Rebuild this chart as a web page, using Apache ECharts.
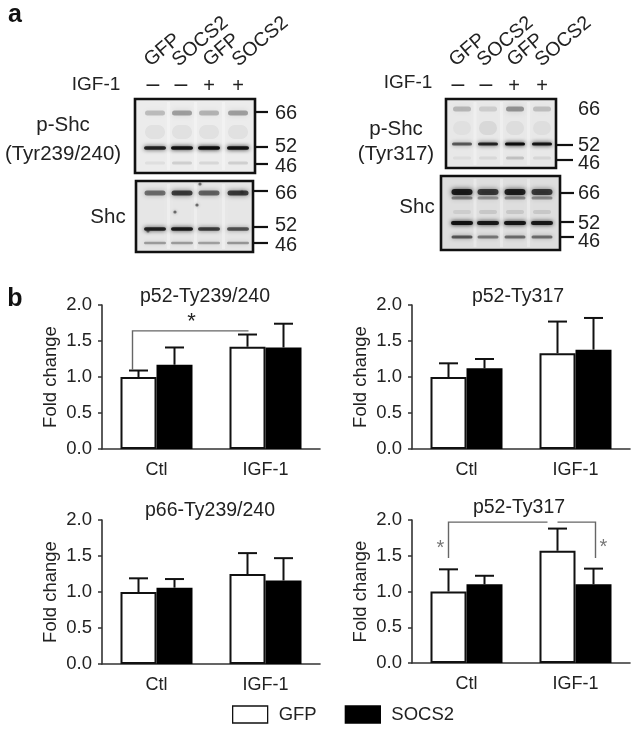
<!DOCTYPE html>
<html>
<head>
<meta charset="utf-8">
<style>
  html, body { margin: 0; padding: 0; background: #fff; }
  #main { width: 638px; height: 729px; }
</style>
</head>
<body>
<div id="main"></div>
<script src="https://cdn.jsdelivr.net/npm/echarts@6/dist/echarts.min.js"></script>
<script>
// bar chart data
var categories = ['Ctl', 'IGF-1'];
var tickLabels = ['0.0', '0.5', '1.0', '1.5', '2.0'];
var panelTitles = ['p52-Ty239/240', 'p52-Ty317', 'p66-Ty239/240', 'p52-Ty317'];

var gfpA = [1.0, 1.42];
var socsA = [1.17, 1.41];
var gfpTopA = [1.09, 1.59];
var socsTopA = [1.41, 1.74];

var gfpB = [1.0, 1.33];
var socsB = [1.12, 1.38];
var gfpTopB = [1.19, 1.77];
var socsTopB = [1.25, 1.82];

var gfpC = [1.0, 1.25];
var socsC = [1.06, 1.16];
var gfpTopC = [1.19, 1.54];
var socsTopC = [1.18, 1.47];

var gfpD = [1.0, 1.57];
var socsD = [1.1, 1.1];
var gfpTopD = [1.31, 1.88];
var socsTopD = [1.22, 1.32];

// blot band strength per lane (0..1)
var pShcLeft66 = [0.2, 0.32, 0.24, 0.32];
var pShcLeftHaze = [0.05, 0.05, 0.05, 0.05];
var pShcLeft52 = [0.85, 0.95, 1.0, 0.95];
var pShcLeft46 = [0.06, 0.12, 0.09, 0.12];
var shcLeft66 = [0.5, 0.72, 0.55, 0.72];
var shcLeft52 = [0.85, 0.9, 0.72, 0.62];
var shcLeft46 = [0.32, 0.32, 0.3, 0.34];
var pShcRight66 = [0.22, 0.12, 0.36, 0.18];
var pShcRightHaze = [0.03, 0.07, 0.05, 0.04];
var pShcRight52 = [0.6, 0.85, 1.0, 0.95];
var pShcRight46 = [0.05, 0.07, 0.17, 0.08];
var shcRight66 = [0.88, 0.72, 0.85, 0.72];
var shcRight66b = [0.4, 0.32, 0.36, 0.36];
var shcRightHaze = [0.08, 0.1, 0.1, 0.1];
var shcRight52 = [0.95, 0.9, 0.92, 0.9];
var shcRight46 = [0.6, 0.45, 0.5, 0.5];

var FONT = '"Liberation Sans", Arial, sans-serif';
var BAR_W = 36;
var grids = [
  { left: 102, top: 305, width: 218, height: 144 },
  { left: 412, top: 305, width: 218, height: 144 },
  { left: 102, top: 520, width: 218, height: 144 },
  { left: 412, top: 520, width: 218, height: 143 }
];
var panels = [
  [gfpA, socsA, gfpTopA, socsTopA],
  [gfpB, socsB, gfpTopB, socsTopB],
  [gfpC, socsC, gfpTopC, socsTopC],
  [gfpD, socsD, gfpTopD, socsTopD]
];

var myChart = echarts.init(document.getElementById('main'));

// error bar: stem from the bar top up to the cap
function errorItem(side) {
  return function (params, api) {
    var off = side * BAR_W / 2;
    var a = api.coord([api.value(0), api.value(1)]);
    var b = api.coord([api.value(0), api.value(2)]);
    var st = { stroke: '#111', lineWidth: 2 };
    return {
      type: 'group',
      children: [
        { type: 'line', shape: { x1: a[0] + off, y1: a[1], x2: a[0] + off, y2: b[1] }, style: st },
        { type: 'line', shape: { x1: a[0] + off - 9.5, y1: b[1], x2: a[0] + off + 9.5, y2: b[1] }, style: st }
      ]
    };
  };
}

// significance bracket, points are [category, px offset, value]
function bracketSeries(idx, segs, stars) {
  return {
    type: 'custom',
    xAxisIndex: idx,
    yAxisIndex: idx,
    z: 5,
    silent: true,
    clip: false,
    data: [[0, 0]],
    renderItem: function (params, api) {
      function pt(p) {
        var c = api.coord([p[0], p[2]]);
        return [c[0] + p[1], c[1]];
      }
      var kids = segs.map(function (seg) {
        return {
          type: 'polyline',
          shape: { points: seg.map(pt) },
          style: { stroke: '#666', lineWidth: 1.4, fill: null }
        };
      });
      stars.forEach(function (s) {
        var c = pt(s);
        kids.push({
          type: 'text',
          x: c[0],
          y: c[1],
          style: { text: '*', font: s[3] + ' ' + FONT, fill: s[4], align: 'center', verticalAlign: 'middle' }
        });
      });
      return { type: 'group', children: kids };
    }
  };
}

var series = [];
var xAxes = [];
var yAxes = [];
var titles = [];
var titlePos = [[200, 282], [513, 282], [205, 496], [514, 493]];

panels.forEach(function (p, i) {
  xAxes.push({
    type: 'category',
    gridIndex: i,
    data: categories,
    axisLine: { lineStyle: { color: '#333', width: 1.6 } },
    axisTick: { alignWithLabel: true, length: 3, lineStyle: { color: '#333', width: 1.5 } },
    axisLabel: { color: '#222', fontSize: 18, fontFamily: FONT, margin: 12, interval: 0 }
  });
  yAxes.push({
    type: 'value',
    gridIndex: i,
    min: 0,
    max: 2,
    interval: 0.5,
    name: 'Fold change',
    nameLocation: 'middle',
    nameGap: 42,
    nameTextStyle: { color: '#222', fontSize: 18.5, fontFamily: FONT },
    splitLine: { show: false },
    axisLine: { show: true, lineStyle: { color: '#333', width: 1.6 } },
    axisTick: { show: true, length: 4, lineStyle: { color: '#333', width: 1.5 } },
    axisLabel: {
      color: '#222', fontSize: 18.5, fontFamily: FONT, margin: 10,
      formatter: function (v) { return tickLabels[Math.round(v * 2)]; }
    }
  });
  titles.push({
    text: panelTitles[i],
    left: titlePos[i][0],
    top: titlePos[i][1],
    textAlign: 'center',
    textStyle: { color: '#222', fontSize: 19.5, fontWeight: 'normal', fontFamily: FONT }
  });
  series.push({
    name: 'GFP', type: 'bar', xAxisIndex: i, yAxisIndex: i,
    data: p[0], barWidth: BAR_W, barGap: 0,
    itemStyle: { color: '#fff', borderColor: '#111', borderWidth: 2 }
  });
  series.push({
    name: 'SOCS2', type: 'bar', xAxisIndex: i, yAxisIndex: i,
    data: p[1], barWidth: BAR_W, barGap: 0,
    itemStyle: { color: '#000', borderColor: '#000', borderWidth: 2 }
  });
  series.push({
    type: 'custom', xAxisIndex: i, yAxisIndex: i, z: 4, silent: true, clip: false,
    data: p[0].map(function (v, k) { return [k, v, p[2][k]]; }),
    renderItem: errorItem(-1)
  });
  series.push({
    type: 'custom', xAxisIndex: i, yAxisIndex: i, z: 4, silent: true, clip: false,
    data: p[1].map(function (v, k) { return [k, v, p[3][k]]; }),
    renderItem: errorItem(1)
  });
});

series.push(bracketSeries(0,
  [[[0, -24, 1.1], [0, -24, 1.64], [1, -17, 1.64]]],
  [[0, 35, 1.76, '22px', '#222']]));
series.push(bracketSeries(3,
  [[[0, -18, 1.47], [0, -18, 1.97], [1, -28, 1.97]],
   [[1, -18, 1.97], [1, 20, 1.97], [1, 20, 1.47]]],
  [[0, -26, 1.6, '20px', '#777'], [1, 28, 1.62, '20px', '#777']]));

// ---- western blot panels, drawn as plain graphics ----
var els = [];

function txt(s, x, y, size, opt) {
  opt = opt || {};
  els.push({
    type: 'text', x: x, y: y, rotation: opt.rot || 0, silent: true,
    style: {
      text: s,
      font: (opt.bold ? 'bold ' : '') + size + 'px ' + FONT,
      fill: opt.fill || '#222',
      textAlign: opt.align || 'center',
      textVerticalAlign: 'middle'
    }
  });
}

function tick(x1, x2, y) {
  els.push({
    type: 'line', silent: true,
    shape: { x1: x1, y1: y, x2: x2, y2: y },
    style: { stroke: '#111', lineWidth: 2.2 }
  });
}

function band(cx, cy, w, h, a, blur) {
  if (a <= 0) return;
  var c = 'rgba(12,12,12,' + a + ')';
  els.push({
    type: 'rect', silent: true,
    shape: { x: cx - w / 2, y: cy - h / 2, width: w, height: h, r: h / 2 },
    style: { fill: c, shadowBlur: blur, shadowColor: c }
  });
}

function blot(x, y, w, h, lanes, rows, bg) {
  els.push({
    type: 'rect', silent: true,
    shape: { x: x, y: y, width: w, height: h },
    style: { fill: bg }
  });
  // paler gaps between lanes
  for (var g = 0; g < lanes.length - 1; g++) {
    var gx = (lanes[g] + lanes[g + 1]) / 2;
    els.push({
      type: 'rect', silent: true,
      shape: { x: gx - 1.5, y: y + 3, width: 3, height: h - 6 },
      style: { fill: 'rgba(255,255,255,0.3)', shadowBlur: 6, shadowColor: 'rgba(255,255,255,0.7)' }
    });
  }
  rows.forEach(function (r) {
    lanes.forEach(function (lx, k) {
      band(lx, r.y, r.w, r.h, r.vals[k], r.blur);
    });
  });
  els.push({
    type: 'rect', silent: true,
    shape: { x: x, y: y, width: w, height: h },
    style: { fill: null, stroke: '#111', lineWidth: 2.6 }
  });
}

var lanesLeft = [155, 182, 209, 238];
var lanesRight = [462, 488, 515, 542];

blot(135, 99, 120, 74, lanesLeft, [
  { y: 113, w: 20, h: 5, vals: pShcLeft66, blur: 6 },
  { y: 132, w: 20, h: 14, vals: pShcLeftHaze, blur: 8 },
  { y: 148, w: 22, h: 3.5, vals: pShcLeft52, blur: 4 },
  { y: 163, w: 20, h: 3, vals: pShcLeft46, blur: 5 }
], '#ececec');
blot(136, 181, 117, 71, lanesLeft, [
  { y: 193, w: 21, h: 5, vals: shcLeft66, blur: 5 },
  { y: 229, w: 22, h: 3.5, vals: shcLeft52, blur: 4 },
  { y: 243, w: 22, h: 2.5, vals: shcLeft46, blur: 4 }
], '#e6e6e6');
blot(446, 99, 110, 69, lanesRight, [
  { y: 109, w: 18, h: 5, vals: pShcRight66, blur: 7 },
  { y: 128, w: 18, h: 14, vals: pShcRightHaze, blur: 8 },
  { y: 144, w: 20, h: 3, vals: pShcRight52, blur: 4 },
  { y: 158, w: 18, h: 3, vals: pShcRight46, blur: 5 }
], '#e8e8e8');
blot(441, 176, 119, 74, lanesRight, [
  { y: 192, w: 21, h: 6, vals: shcRight66, blur: 5 },
  { y: 198, w: 21, h: 3, vals: shcRight66b, blur: 5 },
  { y: 212, w: 18, h: 4, vals: shcRightHaze, blur: 6 },
  { y: 223, w: 22, h: 4, vals: shcRight52, blur: 4 },
  { y: 237, w: 21, h: 3, vals: shcRight46, blur: 4 }
], '#dedede');

// specks on the left Shc blot
[[175, 212], [197, 205], [148, 231], [242, 192], [200, 184]].forEach(function (s) {
  els.push({
    type: 'circle', silent: true,
    shape: { cx: s[0], cy: s[1], r: 1.6 },
    style: { fill: 'rgba(40,40,40,0.6)', shadowBlur: 3, shadowColor: 'rgba(40,40,40,0.6)' }
  });
});

// ticks + kDa labels
tick(255, 268, 112); tick(255, 268, 147); tick(255, 268, 164);
tick(253, 268, 191); tick(253, 268, 227); tick(253, 268, 243);
tick(557, 573, 145); tick(557, 573, 160);
tick(560, 574, 193); tick(560, 574, 222); tick(560, 574, 237);
[[113, '66'], [146, '52'], [166, '46'], [193, '66'], [225, '52'], [245, '46']].forEach(function (m) {
  txt(m[1], 275, m[0], 20, { align: 'left' });
});
[[109, '66'], [145, '52'], [163, '46'], [193, '66'], [223, '52'], [241, '46']].forEach(function (m) {
  txt(m[1], 578, m[0], 20, { align: 'left' });
});

txt('p-Shc', 63, 125, 20.5);
txt('(Tyr239/240)', 63, 154, 20.5);
txt('Shc', 108, 217, 20.5);
txt('p-Shc', 396, 129, 20.5);
txt('(Tyr317)', 396, 154, 20.5);
txt('Shc', 417, 207, 20.5);

txt('IGF-1', 96, 85, 19);
txt('IGF-1', 408, 83, 19);
[[153, '–'], [181, '–'], [458, '–'], [486, '–']].forEach(function (m) {
  txt(m[1], m[0], 85, 23);
});
[[209, '+'], [238, '+'], [514, '+'], [542, '+']].forEach(function (m) {
  txt(m[1], m[0], 86, 20);
});

// rotated lane names
var laneNames = ['GFP', 'SOCS2', 'GFP', 'SOCS2'];
[147, 175, 206, 235].forEach(function (x, k) {
  txt(laneNames[k], x, 63, 19.5, { align: 'left', rot: 0.7 });
});
[132, 160, 190, 218].forEach(function (x, k) {
  txt(laneNames[k], x + 320, 63, 19.5, { align: 'left', rot: 0.7 });
});

txt('a', 15, 15, 25, { bold: true, fill: '#111' });
txt('b', 15, 299, 25, { bold: true, fill: '#111' });

var option = {
  animation: false,
  backgroundColor: '#fff',
  title: titles,
  grid: grids,
  xAxis: xAxes,
  yAxis: yAxes,
  legend: {
    data: ['GFP', 'SOCS2'],
    left: 232,
    top: 705,
    padding: 0,
    icon: 'rect',
    itemWidth: 35,
    itemHeight: 17,
    itemGap: 28,
    selectedMode: false,
    itemStyle: { borderWidth: 1.3 },
    textStyle: { color: '#222', fontSize: 18.5, fontFamily: FONT, padding: [0, 0, 0, 6] }
  },
  series: series,
  graphic: { elements: els }
};
myChart.setOption(option);
</script>
</body>
</html>
